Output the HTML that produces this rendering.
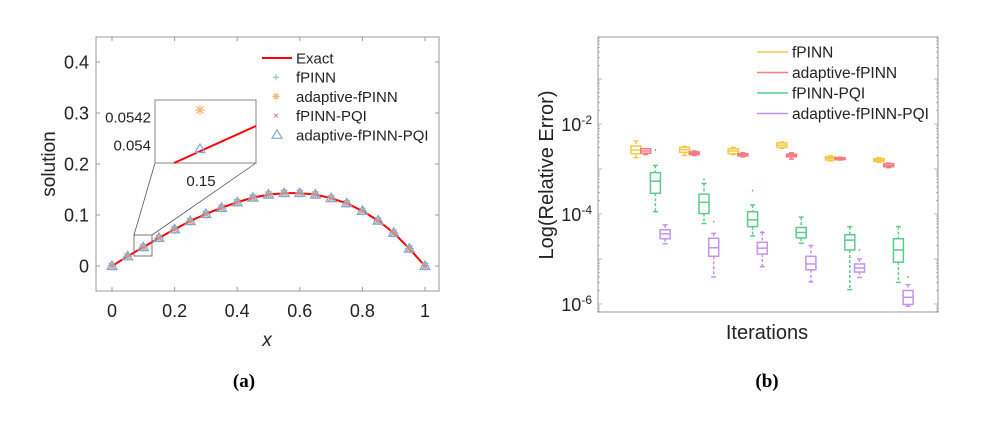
<!DOCTYPE html>
<html><head><meta charset="utf-8"><style>
body{margin:0;background:#fff}
svg{display:block;font-family:"Liberation Sans",sans-serif}
</style></head><body>
<svg id="s" width="984" height="427" viewBox="0 0 984 427">
<rect width="984" height="427" fill="#fff"/>
<g id="A"></g>
<g id="B"></g>
<text x="244" y="387" font-family="Liberation Serif" font-weight="bold" font-size="19" text-anchor="middle">(a)</text>
<text x="767" y="387" font-family="Liberation Serif" font-weight="bold" font-size="19" text-anchor="middle">(b)</text>
</svg>
<script>
// ---- Chart (a) data ----
const xs=[0,0.05,0.1,0.15,0.2,0.25,0.3,0.35,0.4,0.45,0.5,0.55,0.6,0.65,0.7,0.75,0.8,0.85,0.9,0.95,1];
const sol=[0,0.019,0.037,0.055,0.072,0.088,0.102,0.114,0.125,0.134,0.140,0.143,0.143,0.140,0.133,0.123,0.108,0.089,0.065,0.034,0];
const xTicks=[0,0.2,0.4,0.6,0.8,1];
const yTicks=[0,0.1,0.2,0.3,0.4];
const legendA=["Exact","fPINN","adaptive-fPINN","fPINN-PQI","adaptive-fPINN-PQI"];
// ---- Chart (b) data (log10 values) ----
const groups=[1,2,3,4,5,6];
const seriesB=["fPINN","adaptive-fPINN","fPINN-PQI","adaptive-fPINN-PQI"];
const lowW=[[-2.75,-2.68,-3.95,-4.66],[-2.70,-2.70,-4.21,-5.40],[-2.68,-2.73,-4.49,-5.17],[-2.54,-2.78,-4.65,-5.51],[-2.82,-2.80,-5.68,-5.41],[-2.85,-2.97,-5.52,-6.05]];
const q1=[[-2.66,-2.65,-3.54,-4.55],[-2.63,-2.68,-3.99,-4.94],[-2.66,-2.71,-4.28,-4.89],[-2.52,-2.73,-4.53,-5.24],[-2.80,-2.79,-4.80,-5.29],[-2.83,-2.95,-5.07,-6.01]];
const med=[[-2.58,-2.60,-3.27,-4.44],[-2.57,-2.65,-3.74,-4.75],[-2.60,-2.68,-4.13,-4.76],[-2.47,-2.70,-4.41,-5.11],[-2.76,-2.77,-4.58,-5.20],[-2.80,-2.92,-4.80,-5.85]];
const q3=[[-2.49,-2.55,-3.08,-4.35],[-2.52,-2.62,-3.56,-4.54],[-2.55,-2.66,-3.95,-4.63],[-2.42,-2.67,-4.30,-4.94],[-2.73,-2.75,-4.46,-5.11],[-2.77,-2.88,-4.55,-5.70]];
const highW=[[-2.38,-2.55,-2.92,-4.24],[-2.50,-2.60,-3.32,-4.43],[-2.52,-2.64,-3.80,-4.41],[-2.40,-2.64,-4.07,-4.70],[-2.71,-2.74,-4.28,-5.00],[-2.75,-2.87,-4.28,-5.57]];
const outliers=[[null,null,-2.58,null],[null,null,-3.23,-4.17],[null,null,-3.48,-4.40],[null,null,null,null],[null,null,null,-4.80],[null,null,null,-5.40]];
const yTicksB=[-2,-4,-6];

const NS="http://www.w3.org/2000/svg";
function mk(p,t,a){const e=document.createElementNS(NS,t);for(const k in a)e.setAttribute(k,a[k]);p.appendChild(e);return e;}
// ---- draw (a) ----
const A=document.getElementById('A');
const ax=v=>112+v*313, ay=v=>266-v*510;
let r=mk(A,'rect',{x:96,y:37,width:343,height:254,fill:'none',stroke:'#999','stroke-width':1});

xTicks.forEach(t=>{
 mk(A,'line',{x1:ax(t),x2:ax(t),y1:291,y2:287,stroke:'#999'});
 mk(A,'line',{x1:ax(t),x2:ax(t),y1:37,y2:41,stroke:'#999'});
 const tx=mk(A,'text',{x:ax(t),y:317,'font-size':18,'text-anchor':'middle',fill:'#222'});tx.textContent=String(t);
 
});
yTicks.forEach(t=>{
 mk(A,'line',{x1:96,x2:100,y1:ay(t),y2:ay(t),stroke:'#999'});
 mk(A,'line',{x1:439,x2:435,y1:ay(t),y2:ay(t),stroke:'#999'});
 const tx=mk(A,'text',{x:89,y:ay(t)+6.5,'font-size':18,'text-anchor':'end',fill:'#222'});tx.textContent=String(t);
 
});
let t=mk(A,'text',{x:0,y:0,'font-size':19,'text-anchor':'middle',transform:'translate(55,164) rotate(-90)',fill:'#222'});t.textContent='solution';

t=mk(A,'text',{x:267,y:346,'font-size':19,'text-anchor':'middle','font-style':'italic',fill:'#222'});t.textContent='x';

let pl=mk(A,'polyline',{points:xs.map((x,i)=>ax(x)+','+ay(sol[i])).join(' '),fill:'none',stroke:'#f00','stroke-width':2});

function tri(g,cx,cy,s){return mk(g,'polygon',{points:`${cx},${cy-s} ${cx-s},${cy+s*0.7} ${cx+s},${cy+s*0.7}`,fill:'none',stroke:'#7fa7d8','stroke-width':1.2});}
function star(g,cx,cy,s,c){for(let k=0;k<4;k++){const a=k*Math.PI/4;mk(g,'line',{x1:cx-s*Math.cos(a),y1:cy-s*Math.sin(a),x2:cx+s*Math.cos(a),y2:cy+s*Math.sin(a),stroke:c,'stroke-width':1.2});}}
xs.forEach((x,i)=>{
 const g=mk(A,'g',{});
 const cx=ax(x),cy=ay(sol[i]);
 star(g,cx,cy,4.5,'#f9b36b');
 mk(g,'path',{d:`M${cx-4} ${cy}h8M${cx} ${cy-4}v8`,stroke:'#6cc7b0','stroke-width':1});
 mk(g,'path',{d:`M${cx-3} ${cy-3}l6 6M${cx+3} ${cy-3}l-6 6`,stroke:'#f07c7c','stroke-width':1});
 tri(g,cx,cy,5);
});
// zoom inset
let zr=mk(A,'rect',{x:134,y:235,width:18,height:21,fill:'none',stroke:'#777'});
mk(A,'line',{x1:134,y1:235,x2:155,y2:163,stroke:'#555','stroke-width':0.8});
mk(A,'line',{x1:152,y1:235,x2:256,y2:163,stroke:'#555','stroke-width':0.8});
const ins=mk(A,'g',{});
mk(ins,'rect',{x:155,y:100,width:101,height:63,fill:'#fff',stroke:'#888'});
mk(ins,'line',{x1:174,y1:163,x2:256,y2:126,stroke:'#f00','stroke-width':2});
star(ins,200,110,5,'#f9b36b');tri(ins,200,149,5);
[[117,'0.0542'],[145,'0.054']].forEach(([y,s])=>{const e=mk(ins,'text',{x:151,y:y+5.5,'font-size':15,'text-anchor':'end',fill:'#222'});e.textContent=s;});
t=mk(ins,'text',{x:201,y:186,'font-size':15,'text-anchor':'middle',fill:'#222'});t.textContent='0.15';
const lgA=mk(A,'g',{});
legendA.forEach((n,i)=>{
 const y=58+i*19.2,g=mk(lgA,'g',{});
 if(i==0)mk(g,'line',{x1:262,x2:292,y1:y,y2:y,stroke:'#f00','stroke-width':2});
 if(i==1)mk(g,'path',{d:`M273 ${y}h6M276 ${y-3}v6`,stroke:'#6cc7b0'});
 if(i==2)star(g,276,y,3.5,'#f9b36b');
 if(i==3)mk(g,'path',{d:`M274 ${y-2}l4 4M278 ${y-2}l-4 4`,stroke:'#f07c7c'});
 if(i==4)tri(g,277,y,5);
 const e=mk(g,'text',{x:296,y:y+5.5,'font-size':15,fill:'#222'});e.textContent=n;
});
// ---- draw (b) ----
const B=document.getElementById('B');
const bx=(gi,si)=>636+gi*48.6+si*9.7, by=v=>124-(v+2)*45;
r=mk(B,'rect',{x:598,y:37,width:340,height:275,fill:'none',stroke:'#999'});

for(let d=-7;d<=0;d++)for(let m=1;m<10;m++){const v=d+Math.log10(m),y=by(v);if(y<37||y>312)continue;const L=m==1?4:2;
 mk(B,'line',{x1:598,x2:598+L,y1:y,y2:y,stroke:'#999','stroke-width':0.7});mk(B,'line',{x1:938,x2:938-L,y1:y,y2:y,stroke:'#999','stroke-width':0.7});}
yTicksB.forEach(v=>{const g=mk(B,'text',{x:592,y:by(v)+7,'font-size':18,'text-anchor':'end',fill:'#222'});
 g.innerHTML='10<tspan dy="-7" font-size="12">'+v+'</tspan>';});
t=mk(B,'text',{x:0,y:0,'font-size':20,'text-anchor':'middle',transform:'translate(553,175) rotate(-90)',fill:'#222'});t.textContent='Log(Relative Error)';

t=mk(B,'text',{x:767,y:339,'font-size':20,'text-anchor':'middle',fill:'#222'});t.textContent='Iterations';

const cols=['#f7c842','#f37a86','#5cc98f','#c493ee'];
groups.forEach((gn,gi)=>seriesB.forEach((sn,si)=>{
 const g=mk(B,'g',{});
 const c=cols[si],x=bx(gi,si),w=5,sw=1.5;
 mk(g,'line',{x1:x,x2:x,y1:by(highW[gi][si]),y2:by(q3[gi][si]),stroke:c,'stroke-width':sw,'stroke-dasharray':'3,2'});
 mk(g,'line',{x1:x,x2:x,y1:by(q1[gi][si]),y2:by(lowW[gi][si]),stroke:c,'stroke-width':sw,'stroke-dasharray':'3,2'});
 mk(g,'line',{x1:x-2.5,x2:x+2.5,y1:by(highW[gi][si]),y2:by(highW[gi][si]),stroke:c,'stroke-width':sw});
 mk(g,'line',{x1:x-2.5,x2:x+2.5,y1:by(lowW[gi][si]),y2:by(lowW[gi][si]),stroke:c,'stroke-width':sw});
 mk(g,'rect',{x:x-w,y:by(q3[gi][si]),width:2*w,height:Math.max(1,by(q1[gi][si])-by(q3[gi][si])),fill:'none',stroke:c,'stroke-width':sw});
 mk(g,'line',{x1:x-w,x2:x+w,y1:by(med[gi][si]),y2:by(med[gi][si]),stroke:c,'stroke-width':sw});
 const o=outliers[gi][si];if(o!==null)mk(g,'line',{x1:x,x2:x,y1:by(o)-1,y2:by(o)+1,stroke:c,'stroke-width':1.4});
}));
const lgB=mk(B,'g',{});
seriesB.forEach((n,i)=>{const y=52+i*20.5,g=mk(lgB,'g',{});
 mk(g,'line',{x1:757,x2:788,y1:y,y2:y,stroke:cols[i],'stroke-width':1.5});
 const e=mk(g,'text',{x:792,y:y+5.5,'font-size':15.5,fill:'#222'});e.textContent=n;});
</script>
</body></html>
